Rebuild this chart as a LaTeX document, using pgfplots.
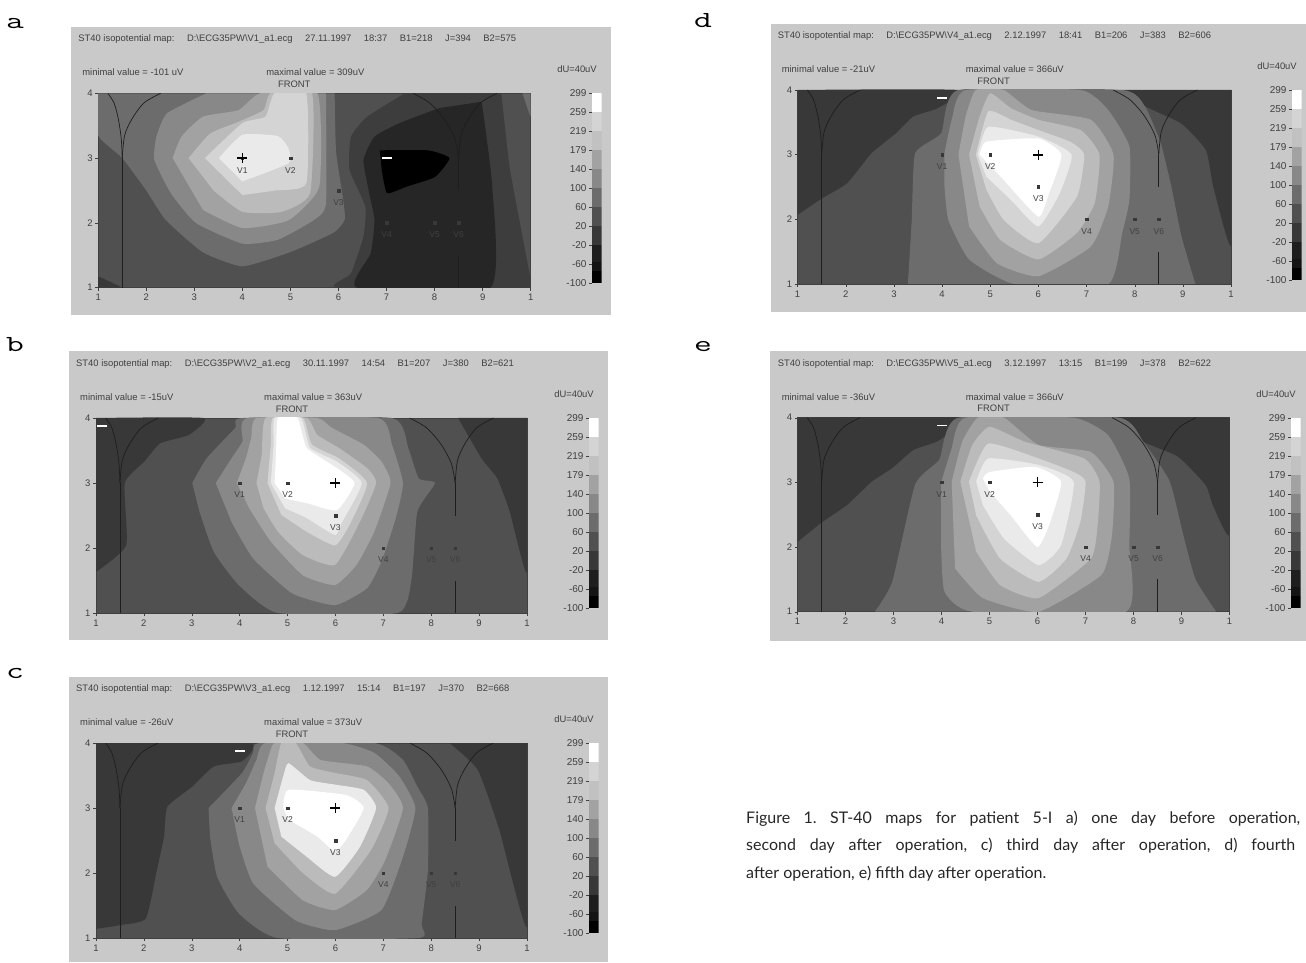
\documentclass[border=0pt]{standalone}
\usepackage{pgfplots}
\pgfplotsset{compat=1.18}
\usepackage{fontspec}
\setmainfont{Liberation Sans}
\newfontfamily\capfont{Lato}
\frenchspacing
\definecolor{PG}{HTML}{C9C9C9}
\definecolor{TX}{HTML}{404040}
\definecolor{Cz}{HTML}{000000}
\definecolor{Ca}{HTML}{1E1E1E}
\definecolor{Cb}{HTML}{383838}
\definecolor{Cc}{HTML}{505050}
\definecolor{Cd}{HTML}{6C6C6C}
\definecolor{Ce}{HTML}{888888}
\definecolor{Cf}{HTML}{A2A2A2}
\definecolor{Cg}{HTML}{BBBBBB}
\definecolor{Ch}{HTML}{D4D4D4}
\definecolor{Ci}{HTML}{EAEAEA}
\newcommand{\zone}[2]{\addplot[fill=#1,draw=none,forget plot,smooth,tension=0.3] coordinates {#2} --cycle;}
\newcommand{\bandz}[2]{\addplot[fill=#1,draw=none,forget plot] coordinates {#2} --cycle;}
\newcommand{\smalltxt}{\fontsize{8.5}{9}\selectfont}
\newcommand{\gp}{\hspace{12.5pt}}
\pgfplotsset{
 mapax/.style={scale only axis,xmin=1,xmax=10,ymin=1,ymax=4,
  xtick={1,2,3,4,5,6,7,8,9,10},xticklabels={1,2,3,4,5,6,7,8,9,1},
  ytick={1,2,3,4},yticklabels={1,2,3,4},xtick pos=bottom,ytick pos=left,
  tick label style={font=\fontsize{9.5}{10}\selectfont,text=TX},
  tick style={color=TX,line width=.4pt},tick align=outside,major tick length=3pt,
  axis line style={draw=TX,line width=.5pt},axis on top=false,
  xticklabel shift=0pt,yticklabel shift=-1pt,
  axis background/.style={fill=Cc}},
 barax/.style={scale only axis,xmin=0,xmax=1,ymin=-100,ymax=299,
  xtick=\empty,ytick={-100,-60,-20,20,60,100,140,179,219,259,299},ytick pos=left,
  yticklabels={-100,-60,-20,20,60,100,140,179,219,259,299},
  tick label style={font=\fontsize{10}{11}\selectfont,text=TX},
  tick style={color=TX,line width=.4pt},tick align=outside,major tick length=3pt,
  yticklabel shift=-1pt,axis line style={draw=none}}
}
\newcommand{\decor}[6]{%
 \addplot[smooth,draw=Ca,line width=.7pt,forget plot] coordinates {(1.2,4)(1.33,3.85)(1.42,3.6)(1.48,3.3)(1.5,3)};
 \addplot[smooth,draw=Ca,line width=.7pt,forget plot] coordinates {(1.5,3)(1.55,3.35)(1.7,3.6)(1.95,3.85)(2.3,4)};
 \addplot[smooth,draw=Ca,line width=.7pt,forget plot] coordinates {(7.55,4)(7.9,3.85)(8.2,3.6)(8.42,3.3)(8.5,3)};
 \addplot[smooth,draw=Ca,line width=.7pt,forget plot] coordinates {(8.5,3)(8.55,3.35)(8.7,3.6)(8.95,3.85)(9.3,4)};
 \addplot[draw=Ca,line width=.8pt,forget plot] coordinates {(1.5,1)(1.5,3)};
 \addplot[draw=Ca,line width=.8pt,forget plot] coordinates {(8.5,1)(8.5,1.5)};
 \addplot[draw=Ca,line width=.8pt,forget plot] coordinates {(8.5,2.5)(8.5,3)};
 \addplot[only marks,mark=square*,mark size=1.3pt,draw=#6,fill=#6,forget plot] coordinates {(4,3)(5,3)(6,2.5)(7,2)(8,2)(8.5,2)};
 \addplot[only marks,mark=+,mark size=5pt,mark options={line width=1.7pt,draw=black},forget plot] coordinates {(#1,#2)};
 \addplot[only marks,mark=-,mark size=5pt,mark options={line width=1.7pt,draw=white},forget plot] coordinates {(#3,#4)};
 \node[font=\smalltxt,text=#5,inner sep=0pt,yshift=-12pt] at (axis cs:4,3) {V1};
 \node[font=\smalltxt,text=#5,inner sep=0pt,yshift=-12pt] at (axis cs:5,3) {V2};
 \node[font=\smalltxt,text=#5,inner sep=0pt,yshift=-12pt] at (axis cs:6,2.5) {V3};
 \node[font=\smalltxt,text=#5,inner sep=0pt,yshift=-12pt] at (axis cs:7,2) {V4};
 \node[font=\smalltxt,text=#5,inner sep=0pt,yshift=-12pt] at (axis cs:8,2) {V5};
 \node[font=\smalltxt,text=#5,inner sep=0pt,yshift=-12pt] at (axis cs:8.5,2) {V6};
}
\newcommand{\bands}{%
 \bandz{Cz}{(0,-100)(1,-100)(1,-75)(0,-75)}
 \bandz{black!92}{(0,-75)(1,-75)(1,-55)(0,-55)}
 \bandz{Ca}{(0,-55)(1,-55)(1,-20)(0,-20)}
 \bandz{Cb}{(0,-20)(1,-20)(1,20)(0,20)}
 \bandz{Cc}{(0,20)(1,20)(1,60)(0,60)}
 \bandz{Cd}{(0,60)(1,60)(1,100)(0,100)}
 \bandz{Ce}{(0,100)(1,100)(1,140)(0,140)}
 \bandz{Cf}{(0,140)(1,140)(1,179)(0,179)}
 \bandz{Cg!60!PG}{(0,179)(1,179)(1,219)(0,219)}
 \bandz{Ch}{(0,219)(1,219)(1,259)(0,259)}
 \bandz{white}{(0,259)(1,259)(1,299)(0,299)}
}
% gx0 gy-top gx1 gy-bottom plotx ploty-top barx title min
\newcommand{\paneltext}[9]{%
 \fill[PG] (#1,962-#2) rectangle (#3,962-#4);
 \node[anchor=west,font=\fontsize{9.4}{10}\selectfont,text=TX,inner sep=0pt] at (#5-20,962-#6+54) {#8};
 \node[anchor=west,font=\fontsize{9.4}{10}\selectfont,text=TX,inner sep=0pt] at (#5-16,962-#6+21) {#9};
 \node[font=\fontsize{9.4}{10}\selectfont,text=TX,inner sep=0pt] at (#5+196,962-#6+9) {FRONT};
 \node[font=\fontsize{9.4}{10}\selectfont,text=TX,inner sep=0pt] at (#7-15,962-#6+24) {dU=40uV};
}
\newcommand{\maxtxt}[3]{\node[anchor=west,font=\fontsize{9.4}{10}\selectfont,text=TX,inner sep=0pt] at (#1+168,962-#2+21) {maximal value = #3};}
\newcommand{\letr}[3]{\node[anchor=base west,font=\ttfamily\fontsize{23}{25}\selectfont,inner sep=0pt] at (#1,962-#2) {\scalebox{1.5}[1]{#3}};}
\begin{document}
\begin{tikzpicture}[x=1pt,y=1pt]
\path[use as bounding box] (0,0) rectangle (1306,962);
\letr{6}{29}{a}
\letr{6}{352}{b}
\letr{6}{678}{c}
\letr{694}{28}{d}
\letr{694}{352}{e}
% caption
\node[anchor=base west,font=\capfont\fontsize{16}{18}\selectfont,text=black!85,inner sep=0pt] at (746,962-823) {\makebox[554pt][s]{Figure 1. ST-40 maps for patient 5-I a) one day before operation,}};
\node[anchor=base west,font=\capfont\fontsize{16}{18}\selectfont,text=black!85,inner sep=0pt] at (746,962-850) {\makebox[549pt][s]{second day after operation, c) third day after operation, d) fourth}};
\node[anchor=base west,font=\capfont\fontsize{16}{18}\selectfont,text=black!85,inner sep=0pt] at (746,962-878) {after operation, e) fifth day after operation.};
% panel frames and text
\paneltext{71}{27}{611}{315}{98.2}{93.3}{592}{ST40 isopotential map:\gp D:\textbackslash ECG35PW\textbackslash V1\_a1.ecg\gp 27.11.1997\gp 18:37\gp B1=218\gp J=394\gp B2=575}{minimal value = -101 uV}
\maxtxt{98.2}{93.3}{309uV}
\paneltext{69}{351}{608}{640}{96}{418}{589}{ST40 isopotential map:\gp D:\textbackslash ECG35PW\textbackslash V2\_a1.ecg\gp 30.11.1997\gp 14:54\gp B1=207\gp J=380\gp B2=621}{minimal value = -15uV}
\maxtxt{96}{418}{363uV}
\paneltext{69}{677}{608}{962}{96}{743}{589}{ST40 isopotential map:\gp D:\textbackslash ECG35PW\textbackslash V3\_a1.ecg\gp 1.12.1997\gp 15:14\gp B1=197\gp J=370\gp B2=668}{minimal value = -26uV}
\maxtxt{96}{743}{373uV}
\paneltext{771}{24}{1306}{312}{797.6}{90}{1292}{ST40 isopotential map:\gp D:\textbackslash ECG35PW\textbackslash V4\_a1.ecg\gp 2.12.1997\gp 18:41\gp B1=206\gp J=383\gp B2=606}{minimal value = -21uV}
\maxtxt{797.6}{90}{366uV}
\paneltext{770}{351}{1306}{641}{797.6}{417.7}{1291}{ST40 isopotential map:\gp D:\textbackslash ECG35PW\textbackslash V5\_a1.ecg\gp 3.12.1997\gp 13:15\gp B1=199\gp J=378\gp B2=622}{minimal value = -36uV}
\maxtxt{797.6}{417.7}{366uV}

% ---------- a
\begin{axis}[mapax,at={(98.2pt,674.3pt)},anchor=south west,width=432.5pt,height=194.4pt]
\zone{Cb}{(1,1)(1,1.17)(1.5,1)}
\zone{Cb!80!Cc}{(7.38,4)(6.6,3.64)(6.26,3.33)(6.23,2.82)(6.56,2.25)(6.52,1.79)(6.26,1.22)(6.0,1)(10,1)(10,1.12)(9.57,2.82)(9.39,4)}
\zone{Ca!70!Cb}{(8.09,3.77)(7.27,3.54)(6.75,3.33)(6.52,2.97)(6.64,2.46)(6.75,2.04)(6.67,1.53)(6.38,1)(9.16,1)(9.2,2.56)(8.98,3.87)}
\zone{Cz}{(6.86,3.12)(7.86,3.12)(8.31,3.0)(8.01,2.71)(7.42,2.56)(7.01,2.46)(6.9,2.82)}
\zone{Cd}{(9.83,4)(10,3.64)(10,4)}
\zone{Cd}{(1,4)(1,3.35)(1.5,3)(2,2.5)(2.4,2.05)(3.17,1.55)(4,1.33)(5,1.55)(5.9,1.85)(6.13,2.05)(6.1,2.35)(5.95,3.1)(5.92,4)}
\zone{Ce}{(3.25,4)(2.43,3.69)(2.21,3.33)(2.17,2.97)(2.51,2.46)(3.03,2)(4,1.68)(4.74,1.74)(5.48,2.04)(5.74,2.3)(5.74,4)}
\zone{Cf}{(2.55,3)(2.73,3.33)(3.18,3.64)(3.92,3.74)(4.37,4)(5.56,4)(5.6,2.56)(4.96,2.04)(4,1.92)(3.18,2.2)}
\zone{Cg}{(2.88,3)(3.33,3.38)(3.92,3.56)(4.44,3.74)(4.59,4)(5.45,4)(5.41,2.46)(4.81,2.17)(4,2.17)(3.4,2.5)}
\zone{Ch}{(3.22,3)(4,3.54)(4.48,3.64)(4.67,4)(5.33,4)(5.33,2.61)(4.67,2.5)(4,2.43)}
\zone{Ci}{(3.51,3)(4,3.36)(4.74,3.34)(4.96,3.15)(4.96,2.92)(4,2.64)}
\decor{4}{3}{7}{3}{TX}{Cb}
\end{axis}
\begin{axis}[barax,at={(592pt,679pt)},anchor=south west,width=9.5pt,height=190pt]\bands\end{axis}

% ---------- b
\begin{axis}[mapax,at={(96pt,349pt)},anchor=south west,width=431pt,height=195pt]
\zone{Cb}{(1,4)(3.24,4)(2.94,3.74)(2.34,3.61)(2.01,3.33)(1.6,3)(1.63,2.04)(1,1.63)}
\zone{Cb}{(8.56,4)(9.05,3.38)(9.38,3.07)(9.64,2.56)(10,1.63)(10,4)}
\zone{Cd}{(3.01,3)(3.31,3.38)(3.91,3.85)(4.06,4)(7.18,4)(7.52,3.54)(7.74,3.07)(8.08,3)(7.71,2.56)(7.59,1.53)(7.3,1)(4.8,1)(3.98,1.43)(3.46,1.94)(3.16,2.56)}
\zone{Ce}{(3.5,3)(3.83,3.38)(4.06,3.64)(4.17,4)(6.89,4)(7.18,3.59)(7.41,3)(7.26,2.46)(6.96,1.79)(6.66,1.38)(5.99,1.12)(5.1,1.3)(4.28,1.84)(3.83,2.4)}
\zone{Cf}{(3.94,3)(4.13,3.38)(4.24,3.69)(4.35,4)(5.62,4)(5.92,3.85)(6.59,3.59)(6.96,3.33)(7.15,3)(6.81,2.25)(6.44,1.74)(5.99,1.43)(5.32,1.58)(4.65,2.1)(4.2,2.61)}
\zone{Cg}{(4.35,3)(4.46,3.43)(4.54,4)(5.4,4)(5.62,3.74)(6.07,3.54)(6.66,3.23)(6.85,3)(6.51,2.4)(5.99,1.74)(5.32,1.89)(4.8,2.25)(4.5,2.61)}
\zone{Ch}{(4.58,3)(4.65,3.59)(4.69,4)(5.32,4)(5.51,3.59)(6.07,3.38)(6.66,3)(6.29,2.35)(5.99,2.04)(5.4,2.25)(4.87,2.51)}
\zone{Ci}{(4.65,3)(4.71,3.59)(4.73,4)(5.28,4)(5.47,3.54)(6.03,3.33)(6.55,3)(6.14,2.4)(5.99,2.2)(5.4,2.46)(4.95,2.61)}
\zone{white}{(4.73,3)(4.76,3.43)(4.8,4)(5.21,4)(5.4,3.54)(5.99,3.25)(6.4,3)(6.03,2.58)(5.4,2.69)(4.95,2.76)}
\decor{6}{3}{1.13}{3.88}{TX}{Cb}
\end{axis}
\begin{axis}[barax,at={(589pt,354pt)},anchor=south west,width=9.5pt,height=190pt]\bands\end{axis}

% ---------- c
\begin{axis}[mapax,at={(96pt,24pt)},anchor=south west,width=431pt,height=195pt]
\zone{Cb}{(1,4)(4.2,4)(4.05,3.72)(3.46,3.64)(3.01,3.33)(2.49,3.02)(2.42,2.56)(2.27,2.04)(2.04,1.3)(1.52,1.2)(1,1.14)}
\zone{Cb}{(8.38,4)(8.97,3.59)(9.42,2.67)(10,1.17)(10,4)}
\zone{Cd}{(3.35,3)(4.05,3.54)(4.28,3.85)(4.43,4)(6.81,4)(7.41,3.74)(7.71,3.33)(7.93,3)(7.93,2.04)(7.8,1.22)(7.74,1)(4.8,1)(3.98,1.38)(3.53,1.94)(3.38,2.56)}
\zone{Ce}{(3.83,3)(4.13,3.38)(4.35,3.74)(4.54,4)(6.14,4)(6.81,3.85)(7.33,3.49)(7.67,3)(7.41,2.25)(6.96,1.43)(5.99,1.12)(5.17,1.27)(4.28,1.84)(3.98,2.46)}
\zone{Cf}{(4.32,3)(4.5,3.54)(4.65,3.9)(4.73,4)(5.32,4)(5.69,3.74)(6.66,3.64)(7.11,3.38)(7.41,3)(7.04,2.2)(6.66,1.74)(5.99,1.43)(5.32,1.58)(4.58,2.1)}
\zone{Cg}{(4.54,3)(4.73,3.54)(4.87,4)(5.17,4)(5.47,3.64)(5.99,3.54)(6.66,3.43)(7.11,3)(6.74,2.35)(5.99,1.68)(5.32,2.0)(4.73,2.46)}
\zone{Ci}{(4.73,3)(4.91,3.49)(5.02,3.69)(5.47,3.43)(5.99,3.36)(6.59,3.28)(6.85,3)(6.51,2.4)(5.99,1.94)(5.4,2.25)(4.87,2.56)}
\zone{white}{(4.91,3)(5.02,3.28)(6.22,3.2)(6.59,3)(6.22,2.51)(5.99,2.33)(5.62,2.56)(5.02,2.82)}
\decor{6}{3}{4}{3.88}{TX}{Cb}
\end{axis}
\begin{axis}[barax,at={(589pt,29pt)},anchor=south west,width=9.5pt,height=190pt]\bands\end{axis}

% ---------- d
\begin{axis}[mapax,at={(797.6pt,678pt)},anchor=south west,width=433.4pt,height=194pt]
\zone{Cb}{(1,4)(4.34,4)(3.91,3.72)(3.4,3.59)(3.04,3.33)(2.53,3.02)(2.03,2.56)(1.52,2.33)(1,2.07)}
\zone{Cb}{(7.74,4)(8.21,3.75)(8.97,3.48)(9.48,3.07)(9.63,2.51)(10,1.6)(10,4)}
\zone{Cd}{(3.29,1)(3.37,1.99)(3.44,3.02)(3.98,3.33)(4.34,4)(7.74,4)(8.21,3.75)(8.54,3.18)(8.76,2.51)(8.97,1.74)(9.26,1)}
\zone{Ce}{(4.05,3.02)(4.2,3.54)(4.49,4)(6.88,4)(7.45,3.69)(7.89,3.13)(7.89,2.3)(7.74,1.79)(7.45,1)(5.5,1)(4.56,1.38)(4.13,1.99)(4.05,2.51)}
\zone{Cf}{(4.34,3)(4.49,3.59)(4.7,4)(5.28,4)(5.86,3.69)(7.09,3.54)(7.56,3)(7.45,2.2)(7.09,1.58)(6,1.12)(5.14,1.32)(4.56,1.89)}
\zone{Cg}{(4.56,3)(4.78,3.59)(5,3.95)(5.43,3.72)(6,3.54)(6.88,3.38)(7.27,3)(7.17,2.25)(6.8,1.79)(6,1.38)(5.21,1.68)(4.78,2.2)}
\zone{Ch}{(4.7,3)(4.96,3.67)(5.43,3.54)(6,3.38)(6.66,3.2)(6.95,3)(6.8,2.35)(6,1.63)(5.28,1.99)(4.92,2.46)}
\zone{Ci}{(4.74,3)(4.96,3.43)(6,3.28)(6.69,3)(6.44,2.4)(6,1.89)(5.43,2.3)(4.92,2.66)}
\zone{white}{(4.78,3)(4.92,3.2)(6,3.25)(6.48,3)(6.22,2.4)(6,2.04)(5.28,2.61)}
\decor{6}{3}{4}{3.88}{TX}{Cb}
\end{axis}
\begin{axis}[barax,at={(1292pt,682pt)},anchor=south west,width=9.5pt,height=190pt]\bands\end{axis}

% ---------- e
\begin{axis}[mapax,at={(797.6pt,350.3pt)},anchor=south west,width=432pt,height=194pt]
\zone{Cb}{(1,2.08)(1.52,2.39)(2.03,2.65)(2.54,3.01)(2.97,3.22)(3.41,3.5)(3.95,3.65)(4.35,4)(1,4)}
\zone{Cb}{(7.69,4)(8.2,3.63)(8.92,3.4)(9.5,2.96)(9.65,2.65)(10,2.19)(10,4)}
\zone{Cd}{(2.61,1)(2.97,1.46)(3.45,2.97)(3.95,3.35)(4.35,4)(7.69,4)(8.2,3.63)(8.75,3.02)(9.03,2.2)(9.29,1.5)(9.72,1)}
\zone{Ce}{(3.99,3)(4.2,3.5)(4.49,4)(6.75,4)(7.47,3.73)(7.91,3.06)(7.91,2.03)(7.84,1)(4.64,1)(4.06,1.31)(3.99,2.03)}
\zone{Cf}{(4.21,3.01)(4.43,3.63)(4.75,4)(5.3,4)(6.02,3.58)(7.11,3.47)(7.58,3.01)(7.55,2.19)(7.33,1.57)(6.02,1)(4.86,1.21)(4.28,1.67)}
\zone{Cg}{(4.39,3.01)(4.64,3.58)(5,3.86)(5.73,3.63)(6.97,3.37)(7.29,3.01)(7.25,2.34)(7.11,1.82)(6.02,1.21)(5.22,1.41)(4.72,1.93)}
\zone{Ch}{(4.57,3.01)(4.97,3.6)(6.02,3.37)(6.75,3.16)(7,3.01)(6.89,2.39)(6.6,1.82)(6.02,1.46)(5.22,1.82)(4.72,2.49)}
\zone{Ci}{(4.72,3.01)(4.97,3.37)(6.02,3.27)(6.75,3.01)(6.49,2.03)(6.02,1.72)(5.3,2.13)(4.86,2.65)}
\zone{white}{(4.86,3.06)(5,3.16)(5.95,3.24)(6.49,3.01)(6.24,2.34)(5.99,2.0)(5.44,2.49)(5,2.86)}
\decor{6}{3}{4}{3.88}{TX}{Cb}
\end{axis}
\begin{axis}[barax,at={(1291pt,354pt)},anchor=south west,width=9.5pt,height=190pt]\bands\end{axis}
\end{tikzpicture}
\end{document}
